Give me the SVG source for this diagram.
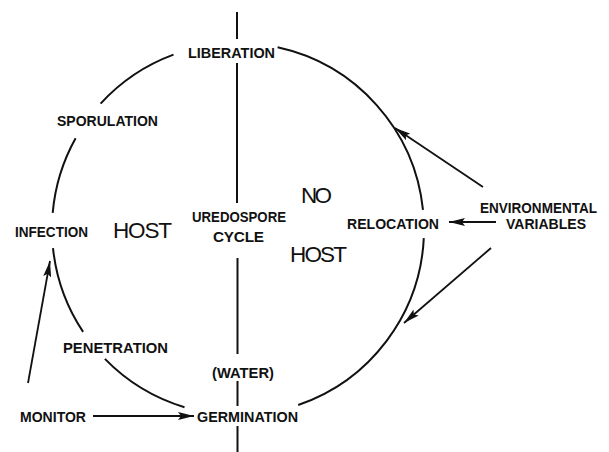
<svg xmlns="http://www.w3.org/2000/svg" width="609" height="452" viewBox="0 0 609 452">
<style>
.lbl{font-family:"Liberation Sans",Arial,sans-serif;font-weight:bold;font-size:15.3px;fill:#111}
.big{font-family:"Liberation Sans",Arial,sans-serif;font-size:22.5px;fill:#111}
.arc{fill:none;stroke:#111;stroke-width:2}
.con{fill:none;stroke:#111;stroke-width:1.8}
</style>
<defs>
<marker id="ah" viewBox="0 0 16 8" refX="16" refY="4" markerWidth="16" markerHeight="8" markerUnits="userSpaceOnUse" orient="auto">
<path d="M0,0 L16,4 L0,8 L3,4 z" fill="#111"/>
</marker>
</defs>
<rect width="609" height="452" fill="#fff"/>
<g id="cycle">
<path class="arc" d="M100.6,103.6 A186,186 0 0 1 173.5,54.6"/>
<path class="arc" d="M52.7,212.8 A186,186 0 0 1 75.6,138.2"/>
<path class="arc" d="M83.1,331.9 A186,186 0 0 1 53,248.1"/>
<path class="arc" d="M184.5,407.2 A186,186 0 0 1 104.9,358.9"/>
<path class="arc" d="M423.8,238.1 A186,186 0 0 1 298.2,405"/>
<path class="arc" d="M277.6,47.3 A186,186 0 0 1 423,209.9"/>
</g>
<g id="divider">
<path class="arc" d="M237,12 V39 M237,63 V203 M237.5,258 V354 M237.5,381 V406 M237.5,426 V452"/>
</g>
<g id="liberation"><text class="lbl" x="188" y="58" textLength="87" lengthAdjust="spacingAndGlyphs">LIBERATION</text></g>
<g id="sporulation"><text class="lbl" x="57" y="126" textLength="101" lengthAdjust="spacingAndGlyphs">SPORULATION</text></g>
<g id="infection"><text class="lbl" x="15" y="237" textLength="73" lengthAdjust="spacingAndGlyphs">INFECTION</text></g>
<g id="penetration"><text class="lbl" x="63" y="353" textLength="105" lengthAdjust="spacingAndGlyphs">PENETRATION</text></g>
<g id="germination"><text class="lbl" x="197" y="422" textLength="101" lengthAdjust="spacingAndGlyphs">GERMINATION</text></g>
<g id="monitor"><text class="lbl" x="20" y="422" textLength="66" lengthAdjust="spacingAndGlyphs">MONITOR</text></g>
<g id="water"><text class="lbl" x="212" y="378" textLength="62" lengthAdjust="spacingAndGlyphs">(WATER)</text></g>
<g id="relocation"><text class="lbl" x="347" y="229" textLength="92" lengthAdjust="spacingAndGlyphs">RELOCATION</text></g>
<g id="environmental"><text class="lbl" x="480" y="213" style="font-size:14.3px" textLength="117" lengthAdjust="spacingAndGlyphs">ENVIRONMENTAL</text><text class="lbl" x="506" y="229" textLength="80" lengthAdjust="spacingAndGlyphs">VARIABLES</text></g>
<g id="uredospore"><text class="lbl" x="192" y="222" textLength="94" lengthAdjust="spacingAndGlyphs">UREDOSPORE</text><text class="lbl" x="213" y="242" textLength="51">CYCLE</text></g>
<g id="host-left"><text class="big" x="113" y="238" textLength="59">HOST</text></g>
<g id="no-host"><text class="big" x="301" y="203" textLength="31">NO</text><text class="big" x="290" y="262" textLength="57">HOST</text></g>
<g id="connectors">
<line class="con" x1="28" y1="383" x2="50" y2="261" marker-end="url(#ah)"/>
<line class="con" x1="93" y1="416" x2="194" y2="416" marker-end="url(#ah)"/>
<line class="con" x1="483" y1="187" x2="395" y2="128" marker-end="url(#ah)"/>
<line class="con" x1="496" y1="222" x2="449" y2="222" marker-end="url(#ah)"/>
<line class="con" x1="491" y1="248" x2="404" y2="323" marker-end="url(#ah)"/>
</g>
</svg>
